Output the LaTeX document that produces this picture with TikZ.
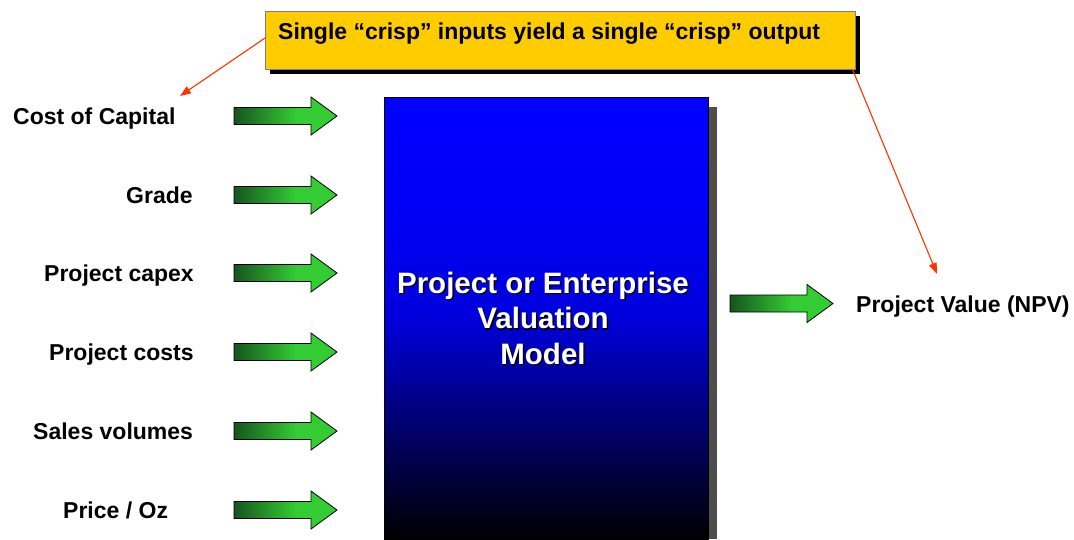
\documentclass[tikz,border=0pt]{standalone}
\usepackage{fontspec}
\setmainfont{Liberation Sans}
\usetikzlibrary{arrows.meta}
\definecolor{boxyellow}{RGB}{255,204,0}
\definecolor{redline}{RGB}{255,51,0}
\definecolor{shadowgray}{RGB}{77,77,77}
\pgfdeclarehorizontalshading{greenfade}{100bp}{rgb(0bp)=(0.09,0.33,0.12); rgb(25bp)=(0.09,0.33,0.12); rgb(55bp)=(0.2,0.8,0.2); rgb(100bp)=(0.2,0.8,0.2)}
\pgfdeclareverticalshading{bluefade}{100bp}{rgb(0bp)=(0,0,0); rgb(25bp)=(0,0,0); rgb(37.5bp)=(0,0,0.42); rgb(50bp)=(0,0,0.86); rgb(62.5bp)=(0,0,0.97); rgb(75bp)=(0,0,1); rgb(100bp)=(0,0,1)}
\tikzset{
  garrow/.pic={\shadedraw[shading=greenfade, draw=black, line width=0.8pt]
    (0,-8.5) -- (77,-8.5) -- (77,-19) -- (103,0) -- (77,19) -- (77,8.5) -- (0,8.5) -- cycle;},
  lbl/.style={anchor=base west, inner sep=0pt, font=\fontsize{23}{27}\selectfont\bfseries},
  redarrow/.style={draw=redline, line width=1.1pt, -{Triangle[length=11pt,width=8pt]}},
  boxtext/.style={align=center, inner sep=0pt, font=\fontsize{29.5}{35.5}\selectfont\bfseries},
}
\begin{document}
\begin{tikzpicture}[x=1pt,y=-1pt]
\useasboundingbox (0,0) rectangle (1074,539);
% yellow callout
\fill[black] (270,16) rectangle (860,74);
\node[draw=gray, line width=0.6pt, fill=boxyellow, minimum width=590pt, minimum height=58pt, inner sep=0pt, anchor=north west] (callout) at (265,11) {};
\node[lbl] (title) at (278,39) {Single “crisp” inputs yield a single “crisp” output};
% model box
\fill[shadowgray] (708,107) rectangle (717,539);
\node[shading=bluefade, draw=black, line width=0.6pt, minimum width=324pt, minimum height=442pt, inner sep=0pt, anchor=north west] (model) at (384,97) {};
\node[boxtext, text=black] at (544.5,319.5) {Project or Enterprise\\Valuation\\Model};
\node[boxtext, text=white] (modeltext) at (543,318) {Project or Enterprise\\Valuation\\Model};
% inputs
\node[lbl] (in1) at (13,124) {Cost of Capital};
\node[lbl] (in2) at (126,203) {Grade};
\node[lbl] (in3) at (44,281) {Project capex};
\node[lbl] (in4) at (49,360) {Project costs};
\node[lbl] (in5) at (33,439) {Sales volumes};
\node[lbl] (in6) at (63,518) {Price / Oz};
\foreach \y in {116,195,273,352,431,510} { \pic at (234,\y) {garrow}; }
% output
\pic at (730,303.5) {garrow};
\node[lbl] (out) at (856,312.5) {Project Value (NPV)};
% red pointers
\coordinate (p1) at (180,96);
\coordinate (p2) at (937,274);
\draw[redarrow] (callout.west |- 0,38) -- (p1);
\draw[redarrow] (callout.south east) ++(-3,0) -- (p2);
\end{tikzpicture}
\end{document}
